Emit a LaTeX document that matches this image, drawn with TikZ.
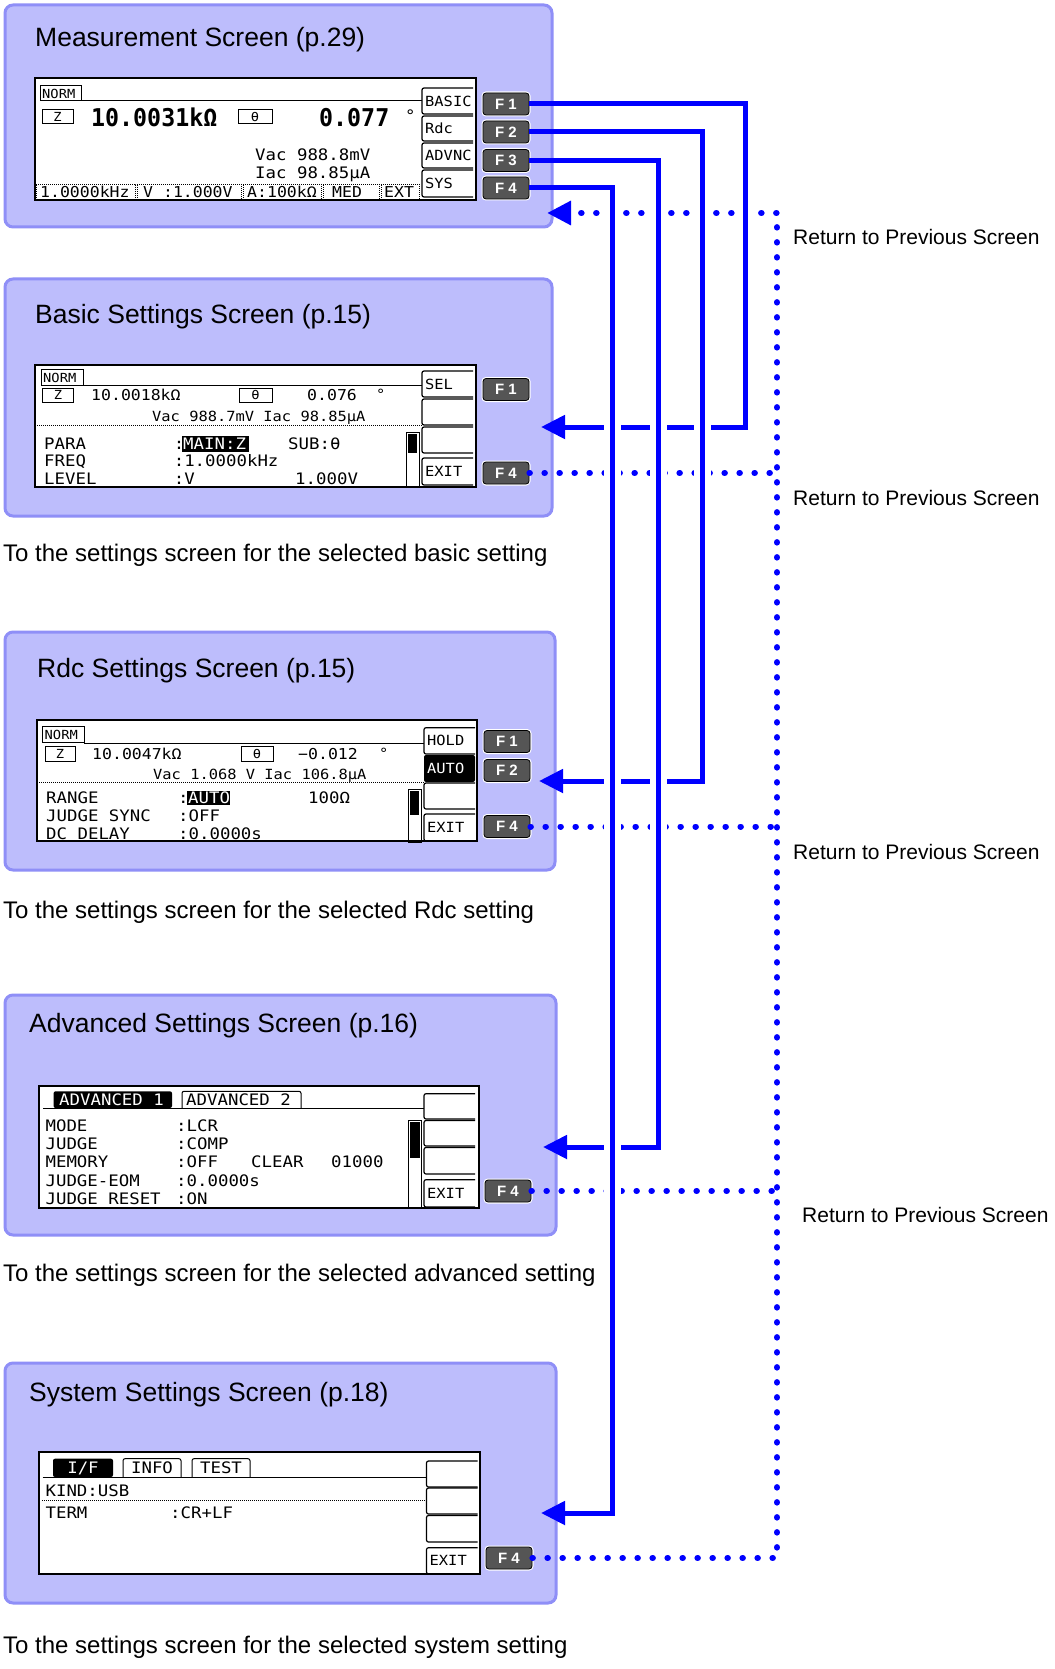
\documentclass[tikz,border=0pt]{standalone}
\usepackage{fontspec}
\setmainfont{Liberation Sans}
\newfontfamily\lcdfam{DejaVu Sans Mono}[FakeStretch=1.1]
\newfontfamily\lcdbigfam{DejaVu Sans Mono}[FakeStretch=0.95]
\usetikzlibrary{arrows.meta}
\definecolor{panelfill}{RGB}{189,189,252}
\definecolor{panelborder}{RGB}{143,143,247}
\definecolor{fkeygray}{RGB}{85,85,85}
\definecolor{linkblue}{RGB}{0,0,255}
\newcommand\lcdMf{\lcdfam\fontsize{15.8}{17}\selectfont}
\newcommand\lcdSf{\lcdfam\fontsize{14}{16}\selectfont}
\newcommand\lcdBf{\lcdfam\fontsize{15}{17}\selectfont}
\newcommand\lcdTf{\lcdfam\fontsize{12.5}{14}\selectfont}
\newcommand\lcdBigf{\lcdbigfam\bfseries\fontsize{24.5}{26}\selectfont}
\newcommand\titlef{\fontsize{26.5}{30}\selectfont}
\newcommand\capf{\fontsize{24}{28}\selectfont}
\newcommand\retf{\fontsize{21}{24}\selectfont}
\newcommand\fkf{\bfseries\fontsize{15}{17}\selectfont}
\newcommand\mySoftKey[5]{%
  \draw[keyln] ({#2+51},#3) -- (#2,#3) -- (#2,#4) -- ({#2+51},#4);
  \node[lcds] (#1) at ({#2+3},{(#3+#4)/2}) {#5};
}
\begin{document}
\begin{tikzpicture}[x=1pt,y=-1pt,
  panel/.style={draw=panelborder, line width=3pt, fill=panelfill, rounded corners=8pt},
  lcdframe/.style={draw=black, line width=2pt, fill=white},
  thinln/.style={line width=1pt},
  keyln/.style={line width=1.2pt, rounded corners=2pt},
  dotln/.style={line width=0.9pt, dash pattern=on 1pt off 1pt},
  fkey/.style={rectangle, rounded corners=3pt, draw=black, line width=0.8pt, fill=fkeygray,
    minimum width=46pt, minimum height=22pt, inner sep=0pt, text=white, font=\fkf,
    preaction={draw=white, line width=3pt}},
  ptitle/.style={anchor=west, inner sep=0pt, text height=19pt, text depth=0pt, font=\titlef},
  pcaption/.style={anchor=west, inner sep=0pt, text height=17.2pt, text depth=0pt, font=\capf},
  rettext/.style={anchor=west, inner sep=0pt, text height=15pt, text depth=0pt, font=\retf},
  lcdm/.style={anchor=west, inner sep=0pt, text height=11.5pt, text depth=0pt, font=\lcdMf},
  lcds/.style={anchor=west, inner sep=0pt, text height=10.2pt, text depth=0pt, font=\lcdSf},
  lcdb/.style={anchor=west, inner sep=0pt, text height=11pt, text depth=0pt, font=\lcdBf},
  lcdt/.style={anchor=west, inner sep=0pt, text height=9.1pt, text depth=0pt, font=\lcdTf},
  lcdbig/.style={anchor=west, inner sep=0pt, text height=17.9pt, text depth=0pt, font=\lcdBigf},
  conn/.style={draw=linkblue, line width=5pt, -{Triangle[length=24pt,width=23pt]}},
  retline/.style={draw=linkblue, line width=6pt, line cap=round, dash pattern=on 0.5pt off 14.5pt},
  gapband/.style={draw=white, line width=17pt},
]
\path[fill=white] (0,0) rectangle (1054,1669);
\useasboundingbox (0,0) rectangle (1054,1669);

% ---------- panels ----------
\draw[panel] (5,5) rectangle (552,227);
\draw[panel] (5,279) rectangle (552,516);
\draw[panel] (5,632) rectangle (555,870);
\draw[panel] (5,995) rectangle (556,1235);
\draw[panel] (5,1363) rectangle (556,1603);

\node[ptitle] (t1) at (35,37) {Measurement Screen (p.29)};
\node[ptitle] (t2) at (35,314) {Basic Settings Screen (p.15)};
\node[ptitle] (t3) at (37,667.5) {Rdc Settings Screen (p.15)};
\node[ptitle] (t4) at (29,1023) {Advanced Settings Screen (p.16)};
\node[ptitle] (t5) at (29,1391.5) {System Settings Screen (p.18)};

\node[pcaption] (c2) at (3,553) {To the settings screen for the selected basic setting};
\node[pcaption] (c3) at (3,910) {To the settings screen for the selected Rdc setting};
\node[pcaption] (c4) at (3,1273) {To the settings screen for the selected advanced setting};
\node[pcaption] (c5) at (3,1645) {To the settings screen for the selected system setting};

% ---------- LCD 1 : measurement ----------
\draw[lcdframe] (35,78) rectangle (476,200);
\begin{scope}[shift={(35,78)}]
  \draw[thinln] (5,8) rectangle (46,23);
  \node[lcdt] (m-norm) at (7,15.5) {NORM};
  \draw[thinln] (46,23) -- (387,23);
  \draw[thinln] (7,32) rectangle (38,46);
  \node[lcdt, anchor=center] (m-z) at (22.5,39) {Z};
  \node[lcdbig] (m-main) at (56,40) {10.0031kΩ};
  \draw[thinln] (203,32) rectangle (237,46);
  \node[lcdt, anchor=center] (m-th) at (220,39) {θ};
  \node[lcdbig] (m-sub) at (284,40) {0.077};
  \node[lcdm] (m-deg) at (370,38) {°};
  \node[lcdm] (m-vac) at (220,77) {Vac 988.8mV};
  \node[lcdm] (m-iac) at (220,95) {Iac 98.85μA};
  \draw[dotln] (1,122) -- (1,106) -- (100,106) -- (100,122);
  \draw[dotln] (102,122) -- (102,106) -- (206,106) -- (206,122);
  \draw[dotln] (208,122) -- (208,106) -- (286,106) -- (286,122);
  \draw[dotln] (288,122) -- (288,106) -- (344,106) -- (344,122);
  \draw[dotln] (346,122) -- (346,106) -- (384,106) -- (384,122);
  \node[lcdb] (m-b1) at (5,114.5) {1.0000kHz};
  \node[lcdb] (m-b2) at (108,114.5) {V :1.000V};
  \node[lcdb] (m-b3) at (212,114.5) {A:100kΩ};
  \node[lcdb] (m-b4) at (297,114.5) {MED};
  \node[lcdb] (m-b5) at (349,114.5) {EXT};
  \mySoftKey{m-k1}{387}{10}{36}{BASIC}
  \mySoftKey{m-k2}{387}{38}{63}{Rdc}
  \mySoftKey{m-k3}{387}{65}{90}{ADVNC}
  \mySoftKey{m-k4}{387}{92}{119}{SYS}
\end{scope}
\node[fkey] (b1f1) at (506,104) {F 1};
\node[fkey] (b1f2) at (506,132) {F 2};
\node[fkey] (b1f3) at (506,160.5) {F 3};
\node[fkey] (b1f4) at (506,188) {F 4};

% ---------- LCD 2 : basic ----------
\draw[lcdframe] (35,365) rectangle (476,487);
\begin{scope}[shift={(35,365)}]
  \draw[thinln] (6,4) rectangle (48,20.7);
  \node[lcdt] (b-norm) at (8,12.5) {NORM};
  \draw[thinln] (48,20.7) -- (387,20.7);
  \draw[thinln] (7.5,23) rectangle (38.6,37);
  \node[lcdt, anchor=center] (b-z) at (23,30) {Z};
  \node[lcdb] (b-main) at (56,30) {10.0018kΩ};
  \draw[thinln] (204,23) rectangle (237,37);
  \node[lcdt, anchor=center] (b-th) at (220.5,30) {θ};
  \node[lcdb] (b-sub) at (272,30) {0.076};
  \node[lcds] (b-deg) at (341,29) {°};
  \node[lcds] (b-vi) at (117,51.7) {Vac 988.7mV Iac 98.85μA};
  \draw[dotln] (0,60.7) -- (387,60.7);
  \node[lcdm] (b-r1) at (9,78.7) {PARA};
  \node[lcdm] (b-r2) at (9,95.7) {FREQ};
  \node[lcdm] (b-r3) at (9,113.3) {LEVEL};
  \node[lcdm] (b-v1) at (138.6,78.7) {:};
  \fill (147,71) rectangle (214,86.5);
  \node[lcdm, text=white] (b-v1b) at (148,78.7) {MAIN:Z};
  \node[lcdm] (b-v1c) at (253,78.7) {SUB:θ};
  \node[lcdm] (b-v2) at (138.6,95.7) {:1.0000kHz};
  \node[lcdm] (b-v3) at (138.6,113.3) {:V};
  \node[lcdm] (b-v3b) at (260,113.3) {1.000V};
  \draw[thinln] (371,67) rectangle (384,121);
  \fill (373,69) rectangle (382,88);
  \mySoftKey{b-k1}{387}{6}{32}{SEL}
  \mySoftKey{b-k2}{387}{34}{60}{}
  \mySoftKey{b-k3}{387}{62}{88}{}
  \mySoftKey{b-k4}{387}{93}{120}{EXIT}
\end{scope}
\node[fkey] (b2f1) at (506,389.5) {F 1};
\node[fkey] (b2f4) at (506,473) {F 4};

% ---------- LCD 3 : Rdc ----------
\draw[lcdframe] (37,720) rectangle (477,841);
\begin{scope}[shift={(37,720)}]
  \draw[thinln] (5.4,6) rectangle (47,22.7);
  \node[lcdt] (r-norm) at (7.5,14.5) {NORM};
  \draw[thinln] (47,23.3) -- (387,23.3);
  \draw[thinln] (8,26) rectangle (38,41);
  \node[lcdt, anchor=center] (r-z) at (23,33.5) {Z};
  \node[lcdb] (r-main) at (55,34) {10.0047kΩ};
  \draw[thinln] (204,26) rectangle (236,41);
  \node[lcdt, anchor=center] (r-th) at (220,33.5) {θ};
  \node[lcdb] (r-sub) at (261,34) {−0.012};
  \node[lcds] (r-deg) at (342,33) {°};
  \node[lcds] (r-vi) at (116,54) {Vac 1.068 V Iac 106.8μA};
  \draw[dotln] (0,62.7) -- (387,62.7);
  \node[lcdm] (r-r1) at (9,77.7) {RANGE};
  \node[lcdm] (r-r2) at (9,96) {JUDGE SYNC};
  \node[lcdm] (r-r3) at (9,113.3) {DC DELAY};
  \node[lcdm] (r-v1) at (141,77.7) {:};
  \fill (150,70.5) rectangle (193,85);
  \node[lcdm, text=white] (r-v1b) at (151,77.7) {AUTO};
  \node[lcdm] (r-v1c) at (271,77.7) {100Ω};
  \node[lcdm] (r-v2) at (141,96) {:OFF};
  \node[lcdm] (r-v3) at (141,113.3) {:0.0000s};
  \draw[thinln] (371,69) rectangle (384,122);
  \fill (373,71) rectangle (382,95);
  \mySoftKey{r-k1}{387}{7.7}{34}{HOLD}
  \fill[rounded corners=2pt] (387,35) rectangle (438,62);
  \node[lcds, text=white] (r-k2) at (390,48.5) {AUTO};
  \mySoftKey{r-k3}{387}{63}{89}{}
  \mySoftKey{r-k4}{387}{94}{121}{EXIT}
\end{scope}
\node[fkey] (b3f1) at (507,741.5) {F 1};
\node[fkey] (b3f2) at (507,770.5) {F 2};
\node[fkey] (b3f4) at (507,826.5) {F 4};

% ---------- LCD 4 : advanced ----------
\draw[lcdframe] (39,1086) rectangle (479,1208);
\begin{scope}[shift={(39,1086)}]
  \fill[rounded corners=2pt] (14.6,22) -- (14.6,5.3) -- (133,5.3) -- (133,22) -- cycle;
  \node[lcdm, text=white] (a-tab1) at (20,14) {ADVANCED 1};
  \draw[thinln, rounded corners=2pt] (143,22) -- (143,5.3) -- (262,5.3) -- (262,22);
  \node[lcdm] (a-tab2) at (147,14) {ADVANCED 2};
  \draw[thinln] (4,22) -- (385,22);
  \node[lcdm] (a-r1) at (6.4,40) {MODE};
  \node[lcdm] (a-r2) at (6.4,57.7) {JUDGE};
  \node[lcdm] (a-r3) at (6.4,76) {MEMORY};
  \node[lcdm] (a-r4) at (6.4,94.3) {JUDGE-EOM};
  \node[lcdm] (a-r5) at (6.4,112.7) {JUDGE RESET};
  \node[lcdm] (a-v1) at (137,40) {:LCR};
  \node[lcdm] (a-v2) at (137,57.7) {:COMP};
  \node[lcdm] (a-v3) at (137,76) {:OFF};
  \node[lcdm] (a-v3b) at (212,76) {CLEAR};
  \node[lcdm] (a-v3c) at (292,76) {01000};
  \node[lcdm] (a-v4) at (137,94.3) {:0.0000s};
  \node[lcdm] (a-v5) at (137,112.7) {:ON};
  \draw[thinln] (369,34) rectangle (382.5,121);
  \fill (371,36) rectangle (380.5,72);
  \mySoftKey{a-k1}{385}{7.7}{33}{}
  \mySoftKey{a-k2}{385}{34.5}{60}{}
  \mySoftKey{a-k3}{385}{61.5}{88}{}
  \mySoftKey{a-k4}{385}{93.7}{121}{EXIT}
\end{scope}
\node[fkey] (b4f4) at (508,1191) {F 4};

% ---------- LCD 5 : system ----------
\draw[lcdframe] (39,1452) rectangle (480,1574);
\begin{scope}[shift={(39,1452)}]
  \fill[rounded corners=2pt] (14,25) -- (14,6.7) -- (74,6.7) -- (74,25) -- cycle;
  \node[lcdm, text=white, anchor=center] (s-tab1) at (44,16) {I/F};
  \draw[thinln, rounded corners=2pt] (84,25) -- (84,6.7) -- (142,6.7) -- (142,25);
  \node[lcdm, anchor=center] (s-tab2) at (113,16) {INFO};
  \draw[thinln, rounded corners=2pt] (153,25) -- (153,6.7) -- (211,6.7) -- (211,25);
  \node[lcdm, anchor=center] (s-tab3) at (182,16) {TEST};
  \draw[thinln] (3.6,25) -- (387.5,25);
  \node[lcdm] (s-r1) at (6.4,38.3) {KIND:USB};
  \draw[dotln] (3,48.3) -- (387,48.3);
  \node[lcdm] (s-r2) at (6.4,60.7) {TERM};
  \node[lcdm] (s-v2) at (131,60.7) {:CR+LF};
  \mySoftKey{s-k1}{387.5}{9}{35}{}
  \mySoftKey{s-k2}{387.5}{36}{62}{}
  \mySoftKey{s-k3}{387.5}{63.5}{90}{}
  \mySoftKey{s-k4}{387.5}{95.7}{122}{EXIT}
\end{scope}
\node[fkey] (b5f4) at (509,1558) {F 4};

% ---------- return (dotted) connectors ----------
\coordinate (rx) at (777,213);
\coordinate (rt) at (547,213);
\draw[retline] (b2f4.east) -- (b2f4.east -| rx);
\draw[retline] (b3f4.east) -- (b3f4.east -| rx);
\draw[retline] (b4f4.east) -- (b4f4.east -| rx);
\draw[retline, -{Triangle[length=24pt,width=23pt]}] (b5f4.east) -- (b5f4.east -| rx) -- (rx) -- (rt);

\node[rettext] (ret1) at (793,237) {Return to Previous Screen};
\node[rettext] (ret2) at (793,498) {Return to Previous Screen};
\node[rettext] (ret3) at (793,852) {Return to Previous Screen};
\node[rettext] (ret4) at (802,1215) {Return to Previous Screen};

% ---------- forward connectors ----------
\coordinate (v1t) at (745,104);  \coordinate (v1b) at (745,427);  \coordinate (a1) at (541,427);
\coordinate (v2t) at (702,132);  \coordinate (v2b) at (702,781);  \coordinate (a2) at (539,781);
\coordinate (v3t) at (658,160.5);\coordinate (v3b) at (658,1147); \coordinate (a3) at (543,1147);
\coordinate (v4t) at (612,188);  \coordinate (v4b) at (612,1513); \coordinate (a4) at (541,1513);

\draw[gapband, shorten <=12pt, shorten >=12pt] (v1t) -- (v1b);
\draw[conn] (b1f1.east) -- (v1t) -- (v1b) -- (a1);
\draw[gapband, shorten <=12pt, shorten >=12pt] (v2t) -- (v2b);
\draw[conn] (b1f2.east) -- (v2t) -- (v2b) -- (a2);
\draw[gapband, shorten <=12pt, shorten >=12pt] (v3t) -- (v3b);
\draw[conn] (b1f3.east) -- (v3t) -- (v3b) -- (a3);
\draw[gapband, shorten <=12pt, shorten >=12pt] (v4t) -- (v4b);
\draw[conn] (b1f4.east) -- (v4t) -- (v4b) -- (a4);
\end{tikzpicture}
\end{document}
